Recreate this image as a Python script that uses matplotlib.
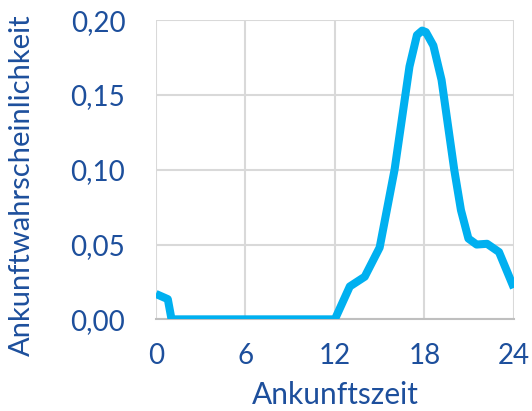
import matplotlib.pyplot as plt
from matplotlib.ticker import FuncFormatter

# arrival time (hours) and arrival probability
zeit = [0, 0.8, 1.05, 12, 13, 14, 15, 16, 17, 17.5, 17.85, 18.1, 18.6, 19.15,
        20, 20.45, 20.95, 21.5, 22.2, 23, 24]
wahrscheinlichkeit = [0.017, 0.0135, 0, 0, 0.022, 0.0285, 0.048, 0.10, 0.169, 0.19,
                      0.193, 0.192, 0.183, 0.16, 0.10, 0.073, 0.054, 0.050, 0.0505,
                      0.045, 0.021]
x_ticks = [0, 6, 12, 18, 24]
y_ticks = [0, 0.05, 0.10, 0.15, 0.20]

blau = '#1d4f9c'
plt.rcParams['font.family'] = ['Lato', 'DejaVu Sans']

fig = plt.figure(figsize=(5.32, 4.11), dpi=100)
ax = fig.add_axes([0.293, 0.223, 0.673, 0.728])

ax.plot(zeit, wahrscheinlichkeit, color='#00b0f0', linewidth=5.8,
        solid_joinstyle='round', solid_capstyle='butt', zorder=3)

ax.set_xlim(0, 24)
ax.set_ylim(0, 0.20)
ax.set_xticks(x_ticks)
ax.set_yticks(y_ticks)
ax.yaxis.set_major_formatter(FuncFormatter(lambda v, p: f'{v:.2f}'.replace('.', ',')))

ax.grid(True, color='#d9d9d9', linewidth=1.5)
ax.set_axisbelow(True)
for s in ['top', 'right', 'left']:
    ax.spines[s].set_visible(False)
ax.spines['bottom'].set_color('#bfbfbf')
ax.spines['bottom'].set_linewidth(1.5)

ax.tick_params(length=0, labelsize=20, labelcolor=blau)
ax.tick_params(axis='y', pad=22)
ax.tick_params(axis='x', pad=17)

ax.set_xlabel('Ankunftszeit', fontsize=21.5, color=blau, labelpad=9)
ax.set_ylabel('Ankunftwahrscheinlichkeit', fontsize=21, color=blau)
ax.yaxis.set_label_coords(-0.338, 0.45)

fig.savefig('out.png', dpi=100)
